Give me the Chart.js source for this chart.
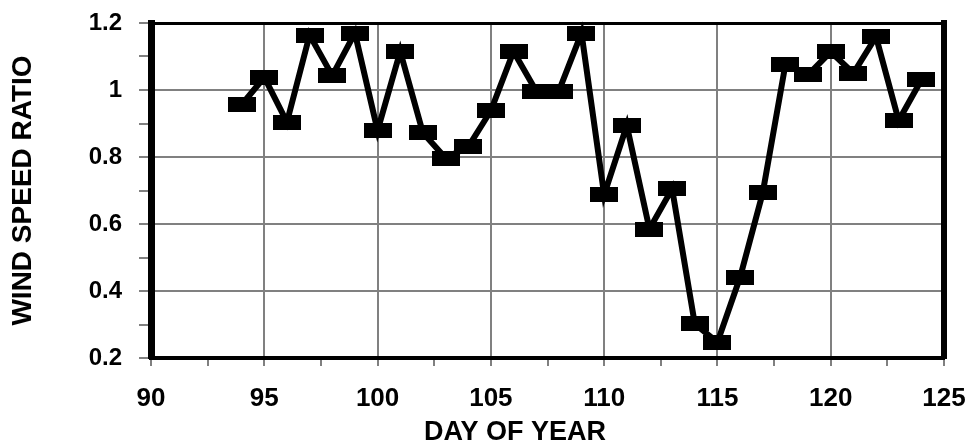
<!DOCTYPE html>
<html>
<head>
<meta charset="utf-8">
<script src="https://cdn.jsdelivr.net/npm/chart.js@4.4.1/dist/chart.umd.min.js"></script>
<style>
  html, body { margin: 0; padding: 0; background: #fff; }
  #wrap { width: 968px; height: 446px; position: relative; }
</style>
</head>
<body>
<div id="wrap"><canvas id="c"></canvas></div>
<script>
// ---- data ----
const days = [94, 95, 96, 97, 98, 99, 100, 101, 102, 103, 104, 105, 106, 107, 108, 109,
              110, 111, 112, 113, 114, 115, 116, 117, 118, 119, 120, 121, 122, 123, 124];
const windSpeedRatio = [0.956, 1.038, 0.904, 1.164, 1.043, 1.17, 0.879, 1.115, 0.872, 0.797,
                        0.83, 0.938, 1.115, 0.997, 0.997, 1.17, 0.687, 0.894, 0.585, 0.705,
                        0.302, 0.247, 0.441, 0.693, 1.076, 1.045, 1.114, 1.05, 1.159, 0.909, 1.03];
const xRange = [90, 125];
const yRange = [0.2, 1.2];
const xTitle = 'DAY OF YEAR';
const yTitle = 'WIND SPEED RATIO';

// rectangular marker
const marker = document.createElement('canvas');
marker.width = 28; marker.height = 15;
const mctx = marker.getContext('2d');
mctx.fillStyle = '#000';
mctx.fillRect(0, 0, 28, 15);

const FONT = '"Liberation Sans", Arial, sans-serif';
const GRID = '#808080';

const isMajorX = v => Math.abs(v / 5 - Math.round(v / 5)) < 1e-6;
const isMajorY = v => Math.round(v * 10) % 2 === 0;

new Chart(document.getElementById('c'), {
  type: 'line',
  data: {
    datasets: [{
      data: days.map((d, i) => ({ x: d, y: windSpeedRatio[i] })),
      borderColor: '#000',
      borderWidth: 6,
      backgroundColor: '#000',
      pointStyle: marker,
      pointRadius: 10,
      tension: 0,
      clip: false
    }]
  },
  options: {
    responsive: true,
    maintainAspectRatio: false,
    animation: false,
    devicePixelRatio: 1,
    layout: { padding: { top: 23, right: -62, bottom: 0, left: 0 } },
    plugins: {
      legend: { display: false },
      tooltip: { enabled: false },
      title: {
        display: true, position: 'bottom', text: xTitle, color: '#000',
        font: { family: FONT, size: 27, weight: 'bold', lineHeight: 1.0 },
        padding: 0
      }
    },
    scales: {
      x: {
        type: 'linear',
        position: 'bottom',
        min: xRange[0], max: xRange[1],
        afterFit: s => { s.height = 61; s.paddingLeft = 0; s.paddingRight = 0; },
        ticks: {
          stepSize: 2.5,
          autoSkip: false,
          maxRotation: 0,
          padding: 17,
          color: '#000',
          font: { family: FONT, size: 26, weight: 'bold' },
          callback: v => isMajorX(v) ? String(Math.round(v)) : ''
        },
        grid: {
          lineWidth: 2,
          color: c => (c.tick && isMajorX(c.tick.value)) ? GRID : 'rgba(0,0,0,0)',
          tickColor: GRID,
          tickLength: 8,
          tickWidth: 2
        },
        border: { display: true, color: '#000', width: 4 }
      },
      xTop: {
        type: 'linear', position: 'top', min: xRange[0], max: xRange[1],
        afterFit: s => { s.height = 0; s.paddingLeft = 0; s.paddingRight = 0; },
        ticks: { display: false },
        grid: { display: false, drawTicks: false },
        border: { display: true, color: '#000', width: 3 }
      },
      y: {
        type: 'linear',
        position: 'left',
        min: yRange[0], max: yRange[1],
        afterFit: s => { s.width = 151; s.paddingTop = 0; s.paddingBottom = 0; },
        ticks: {
          stepSize: 0.1,
          autoSkip: false,
          padding: 17,
          color: '#000',
          font: { family: FONT, size: 24, weight: 'bold' },
          callback: v => isMajorY(v) ? String(Number(v.toFixed(1))) : ''
        },
        grid: {
          lineWidth: 2,
          color: c => (c.tick && isMajorY(c.tick.value)) ? GRID : 'rgba(0,0,0,0)',
          tickColor: GRID,
          tickLength: 12,
          tickWidth: 2
        },
        border: { display: true, color: '#000', width: 7 },
        title: {
          display: true, text: yTitle, color: '#000',
          font: { family: FONT, size: 28, weight: 'bold' },
          padding: { top: 6, bottom: 0 }
        }
      },
      yRight: {
        type: 'linear', position: 'right', min: yRange[0], max: yRange[1],
        afterFit: s => { s.width = 86; s.paddingTop = 0; s.paddingBottom = 0; },
        ticks: { display: false },
        grid: { display: false, drawTicks: false },
        border: { display: true, color: '#000', width: 6 }
      }
    }
  }
});
</script>
</body>
</html>
